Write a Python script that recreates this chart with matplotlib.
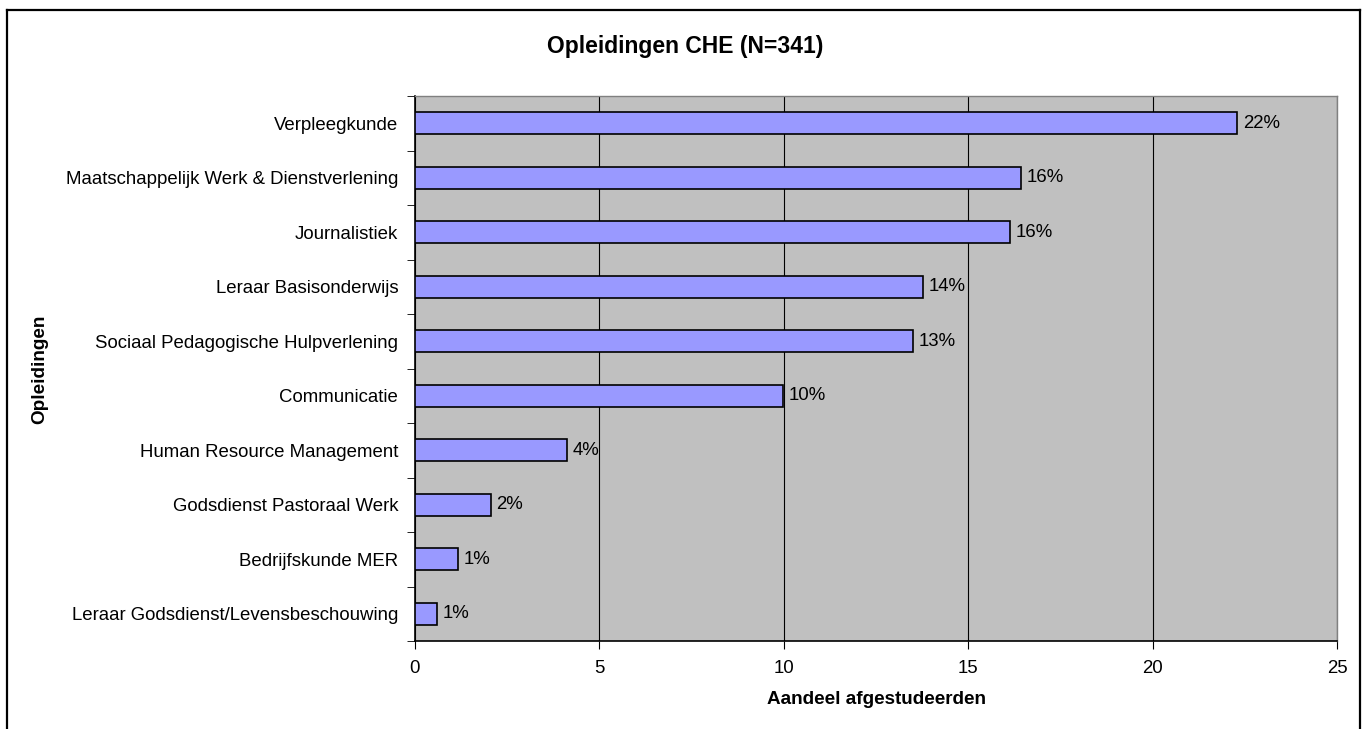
import matplotlib
matplotlib.use("Agg")
import matplotlib.pyplot as plt
import numpy as np
from matplotlib.lines import Line2D

# data: share of graduates per programme (N=341)
opleidingen = ["Verpleegkunde",
               "Maatschappelijk Werk & Dienstverlening",
               "Journalistiek",
               "Leraar Basisonderwijs",
               "Sociaal Pedagogische Hulpverlening",
               "Communicatie",
               "Human Resource Management",
               "Godsdienst Pastoraal Werk",
               "Bedrijfskunde MER",
               "Leraar Godsdienst/Levensbeschouwing"]
aandeel = [22.29, 16.42, 16.13, 13.78, 13.49, 9.97, 4.11, 2.05, 1.17, 0.59]
x_ticks = [0, 5, 10, 15, 20, 25]

plt.rcParams["font.family"] = ["Liberation Sans", "DejaVu Sans"]

W, H = 1365, 729
fig = plt.figure(figsize=(W / 100, H / 100), dpi=100, facecolor="white")
ax = fig.add_axes([415 / W, 1 - 641 / H, 922 / W, 545 / H])

# outer chart frame
fx0, fx1 = 7 / W, 1360 / W
fy0, fy1 = -0.01, 1 - 10 / H
for xs, ys in [([fx0, fx1], [fy1, fy1]), ([fx0, fx0], [fy0, fy1]),
               ([fx1, fx1], [fy0, fy1])]:
    fig.add_artist(Line2D(xs, ys, transform=fig.transFigure,
                          color="black", linewidth=1.6))

pos = np.arange(len(opleidingen))
ax.set_facecolor("#C0C0C0")
ax.barh(pos, aandeel, height=0.41, color="#9999FF",
        edgecolor="black", linewidth=1.2, zorder=3)

# value labels
for p, v in zip(pos, aandeel):
    ax.text(v + 0.16, p, "%.0f%%" % v, va="center", ha="left", fontsize=13.4)

ax.set_xlim(0, 25)
ax.set_ylim(len(opleidingen) - 0.5, -0.5)
ax.set_xticks(x_ticks)
ax.set_xticklabels([str(t) for t in x_ticks], fontsize=13.4)
ax.set_yticks(pos)
ax.set_yticklabels(opleidingen, fontsize=13.4)
ax.tick_params(axis="y", length=0, pad=12)
ax.set_yticks(np.arange(len(opleidingen) + 1) - 0.5, minor=True)
ax.tick_params(axis="y", which="minor", length=6, direction="out")
ax.tick_params(axis="x", length=6, direction="out", pad=8)

ax.grid(axis="x", color="black", linewidth=0.8, zorder=1)
ax.set_axisbelow(True)

for s in ["left", "bottom"]:
    ax.spines[s].set_color("black")
    ax.spines[s].set_linewidth(1.2)
for s in ["top", "right"]:
    ax.spines[s].set_color("#808080")
    ax.spines[s].set_linewidth(1.0)

# labeling
fig.text(876 / W, 1 - 700 / H, "Aandeel afgestudeerden", fontsize=13.6,
         fontweight="bold", ha="center", va="center")
fig.text(40 / W, 1 - 369 / H, "Opleidingen", rotation=90,
         fontsize=13.6, fontweight="bold", ha="center", va="center")
fig.text(685 / W, 1 - 47 / H, "Opleidingen CHE (N=341)",
         fontsize=16.5, fontweight="bold", ha="center", va="center")

plt.savefig("out.png", dpi=100)
